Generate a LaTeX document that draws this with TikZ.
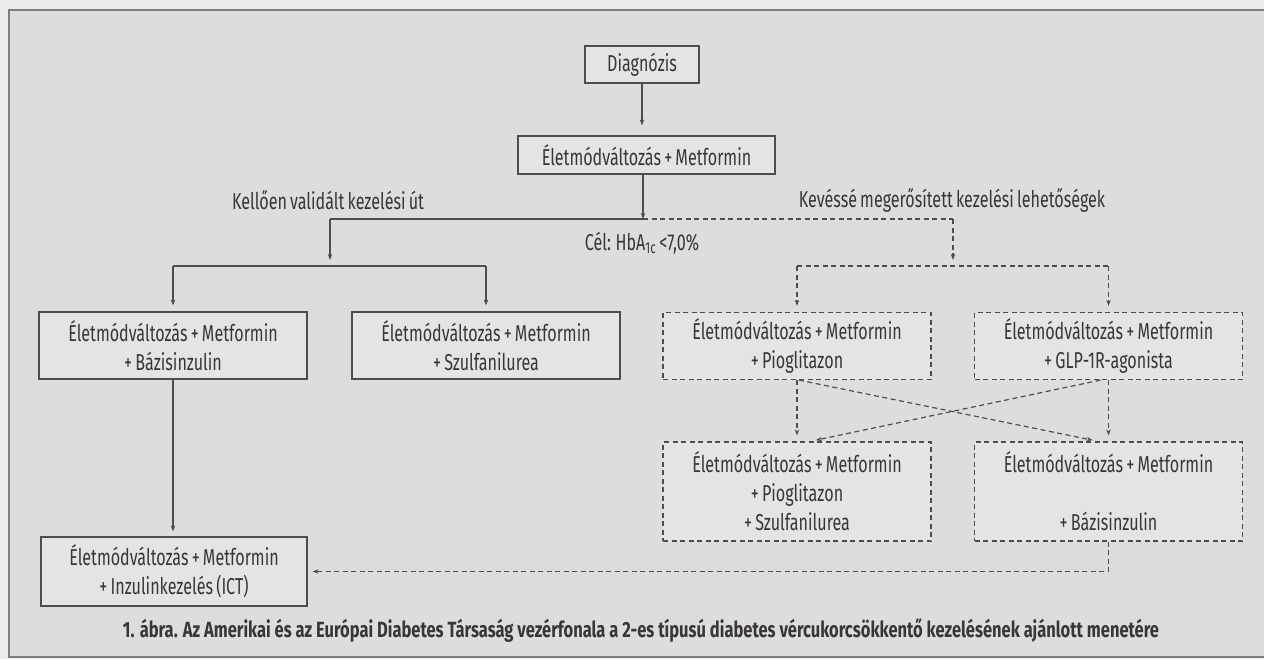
\documentclass[tikz,border=0pt]{standalone}
\usepackage{fontspec}
\setmainfont[FakeStretch=0.70,WordSpace=0.75]{Fira Sans}
\newfontfamily\capfamily[FakeStretch=0.75]{Fira Sans}
\usepackage{xcolor}
\usepackage{tikz}
\usetikzlibrary{arrows.meta,positioning}
\newcommand\flowfont{\fontsize{23}{29}\selectfont}
\newcommand\capfont{\capfamily\bfseries\fontsize{22}{26}\selectfont}

\begin{document}
\begin{tikzpicture}[x=1pt,y=-1pt,>={Stealth[length=6pt,width=4.5pt]},
    box/.style={draw=lineC,fill=boxC,line width=1.2pt,minimum width=268pt,minimum height=67pt,
                inner sep=0pt,align=center,font=\flowfont,text=inkC},
    dbox/.style={box,dash pattern=on 5pt off 3.5pt},
    link/.style={lineC,line width=1.2pt},
    dlink/.style={link,dash pattern=on 5pt off 3.5pt},
    lbl/.style={font=\flowfont,text=inkC,inner sep=0pt}]
    \definecolor{outC}{RGB}{236,236,234}\definecolor{bgC}{RGB}{221,221,220}
    \definecolor{boxC}{RGB}{228,228,227}\definecolor{lineC}{RGB}{80,77,77}
    \definecolor{inkC}{RGB}{58,54,56}\definecolor{frameC}{RGB}{125,125,125}
    % page and frame
    \useasboundingbox (0,0) rectangle (1264,659);
    \fill[outC] (0,0) rectangle (1264,659);
    \fill[bgC] (9,10) rectangle (1264,657);
    \draw[frameC,line width=2.5pt] (1264,657) -- (9,657) -- (9,10) -- (1264,10);
    % boxes
    \node[box,minimum width=114pt,minimum height=37pt] (diag) at (642,64.5) {Diagnózis};
    \node[box,minimum width=257pt,minimum height=38pt] (met) at (646.5,155) {Életmódváltozás + Metformin};
    \node[box] (bazis) at (173,345.5) {Életmódváltozás + Metformin\\+ Bázisinzulin};
    \node[box] (szulf) at (486,345.5) {Életmódváltozás + Metformin\\+ Szulfanilurea};
    \node[dbox] (pio) at (797,346) {Életmódváltozás + Metformin\\+ Pioglitazon};
    \node[dbox] (glp) at (1108.5,346) {Életmódváltozás + Metformin\\+ GLP-1R-agonista};
    \node[dbox,minimum height=99pt] (pioszu) at (797,491.5) {Életmódváltozás + Metformin\\+ Pioglitazon\\+ Szulfanilurea};
    \node[dbox,minimum height=99pt] (glpbaz) at (1108.5,491.5) {Életmódváltozás + Metformin\\[29pt]+ Bázisinzulin};
    \node[box,minimum width=266pt,minimum height=69pt] (ict) at (174,571.5) {Életmódváltozás + Metformin\\+ Inzulinkezelés (ICT)};
    % labels
    \node[lbl] (valid) at (328,200) {Kellően validált kezelési út};
    \node[lbl] (kevesse) at (952,200) {Kevéssé megerősített kezelési lehetőségek};
    \node[lbl] (cel) at (642,243) {Cél: HbA\textsubscript{1c} <7,0\%};
    \node[font=\capfont,text=inkC,inner sep=0pt] (abra) at (641,630)
       {1. ábra. Az Amerikai és az Európai Diabetes Társaság vezérfonala a 2-es típusú diabetes vércukorcsökkentő kezelésének ajánlott menetére};
    % branch points
    \coordinate (split) at (643,219);
    \coordinate (lsplit) at (330,219);
    \coordinate (rsplit) at (953,219);
    \coordinate (lbar) at (330,266);
    \coordinate (rbar) at (953,266);
    % validated path
    \draw[link,->,shorten >=10pt] (diag.south) -- (diag.south |- met.north);
    \draw[link,->] (met.south -| split) -- (split);
    \draw[link] (split) -- (lsplit);
    \draw[link,->,shorten >=6pt] (lsplit) -- (lbar);
    \draw[link] (bazis.north |- lbar) -- (szulf.north |- lbar);
    \foreach \n in {bazis,szulf}
       \draw[link,->,shorten >=6pt] (\n.north |- lbar) -- (\n);
    \draw[link,->,shorten >=5pt] (bazis.south) -- (bazis.south |- ict.north);
    % less confirmed options
    \draw[dlink] (split) -- (rsplit);
    \draw[dlink,->,shorten >=6pt] (rsplit) -- (rbar);
    \draw[dlink] (pio.north |- rbar) -- (glp.north |- rbar);
    \foreach \n in {pio,glp}
       \draw[dlink,->,shorten >=6pt] (\n.north |- rbar) -- (\n);
    \draw[dlink,->,shorten >=6pt] (pio) -- (pioszu);
    \draw[dlink,->,shorten >=6pt] (glp) -- (glpbaz);
    \draw[dlink,->,shorten >=6pt] ([xshift=2pt]pio.south) -- ([xshift=-10pt]glpbaz.north);
    \draw[dlink,->,shorten >=6pt] ([xshift=-8pt]glp.south) -- ([xshift=13pt]pioszu.north);
    \draw[dlink,->,shorten >=5pt] (glpbaz.south) -- (glpbaz.south |- ict.east) -- (ict.east);
\end{tikzpicture}
\end{document}
